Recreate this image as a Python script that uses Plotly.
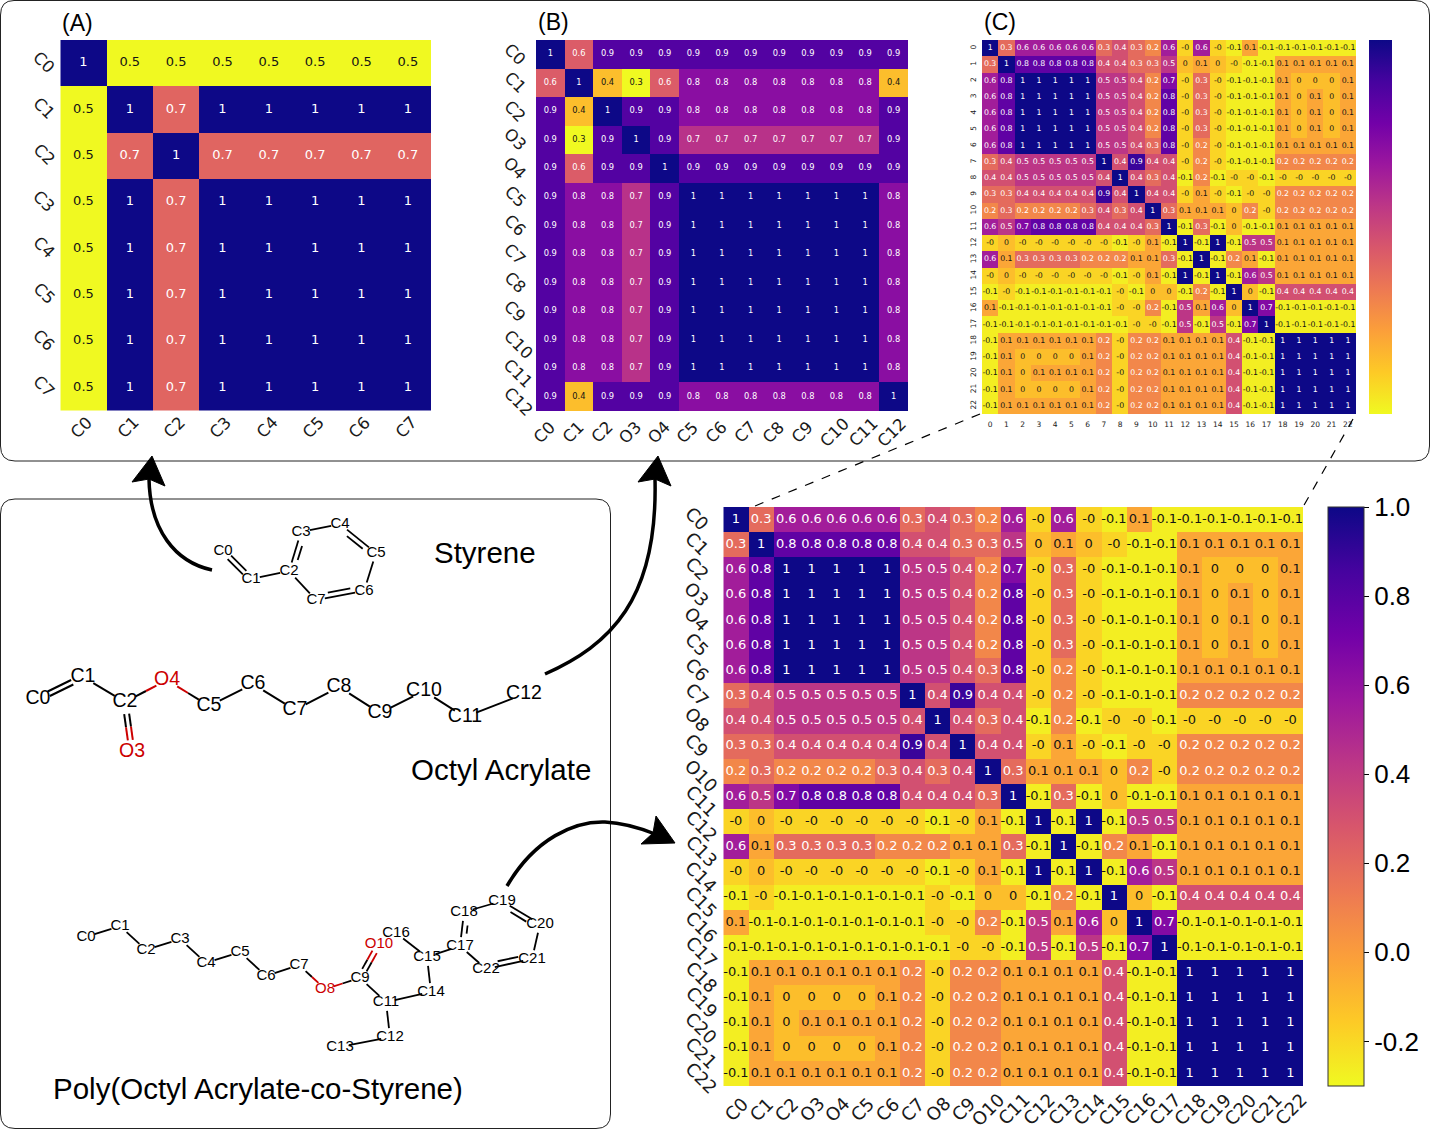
from __future__ import annotations

import math

import plotly.graph_objects as go

WIDTH = 1430
HEIGHT = 1129

# panel (A): styrene
LABELS_A = ["C0", "C1", "C2", "C3", "C4", "C5", "C6", "C7"]
CORR_A = [
    [1.0, 0.5, 0.5, 0.5, 0.5, 0.5, 0.5, 0.5],
    [0.5, 1.0, 0.7, 1.0, 1.0, 1.0, 1.0, 1.0],
    [0.5, 0.7, 1.0, 0.7, 0.7, 0.7, 0.7, 0.7],
    [0.5, 1.0, 0.7, 1.0, 1.0, 1.0, 1.0, 1.0],
    [0.5, 1.0, 0.7, 1.0, 1.0, 1.0, 1.0, 1.0],
    [0.5, 1.0, 0.7, 1.0, 1.0, 1.0, 1.0, 1.0],
    [0.5, 1.0, 0.7, 1.0, 1.0, 1.0, 1.0, 1.0],
    [0.5, 1.0, 0.7, 1.0, 1.0, 1.0, 1.0, 1.0],
]

# panel (B): octyl acrylate
LABELS_B = ["C0", "C1", "C2", "O3", "O4", "C5", "C6", "C7", "C8", "C9", "C10", "C11", "C12"]
CORR_B = [
    [1.0, 0.6, 0.9, 0.9, 0.9, 0.9, 0.9, 0.9, 0.9, 0.9, 0.9, 0.9, 0.9],
    [0.6, 1.0, 0.4, 0.3, 0.6, 0.8, 0.8, 0.8, 0.8, 0.8, 0.8, 0.8, 0.4],
    [0.9, 0.4, 1.0, 0.9, 0.9, 0.8, 0.8, 0.8, 0.8, 0.8, 0.8, 0.8, 0.9],
    [0.9, 0.3, 0.9, 1.0, 0.9, 0.7, 0.7, 0.7, 0.7, 0.7, 0.7, 0.7, 0.9],
    [0.9, 0.6, 0.9, 0.9, 1.0, 0.9, 0.9, 0.9, 0.9, 0.9, 0.9, 0.9, 0.9],
    [0.9, 0.8, 0.8, 0.7, 0.9, 1.0, 1.0, 1.0, 1.0, 1.0, 1.0, 1.0, 0.8],
    [0.9, 0.8, 0.8, 0.7, 0.9, 1.0, 1.0, 1.0, 1.0, 1.0, 1.0, 1.0, 0.8],
    [0.9, 0.8, 0.8, 0.7, 0.9, 1.0, 1.0, 1.0, 1.0, 1.0, 1.0, 1.0, 0.8],
    [0.9, 0.8, 0.8, 0.7, 0.9, 1.0, 1.0, 1.0, 1.0, 1.0, 1.0, 1.0, 0.8],
    [0.9, 0.8, 0.8, 0.7, 0.9, 1.0, 1.0, 1.0, 1.0, 1.0, 1.0, 1.0, 0.8],
    [0.9, 0.8, 0.8, 0.7, 0.9, 1.0, 1.0, 1.0, 1.0, 1.0, 1.0, 1.0, 0.8],
    [0.9, 0.8, 0.8, 0.7, 0.9, 1.0, 1.0, 1.0, 1.0, 1.0, 1.0, 1.0, 0.8],
    [0.9, 0.4, 0.9, 0.9, 0.9, 0.8, 0.8, 0.8, 0.8, 0.8, 0.8, 0.8, 1.0],
]

# panels (C) and the large one: the copolymer. -0.03 prints as "-0", 0.03 as "0"
LABELS_D = ["C0", "C1", "C2", "O3", "O4", "C5", "C6", "C7", "O8", "C9", "O10", "C11", "C12",
            "C13", "C14", "C15", "C16", "C17", "C18", "C19", "C20", "C21", "C22"]
TICKS_C = [str(i) for i in range(23)]
CORR_D = [
    [1.0, 0.3, 0.6, 0.6, 0.6, 0.6, 0.6, 0.3, 0.4, 0.3, 0.2, 0.6, -0.03, 0.6, -0.03, -0.1, 0.1, -0.1, -0.1, -0.1, -0.1, -0.1, -0.1],
    [0.3, 1.0, 0.8, 0.8, 0.8, 0.8, 0.8, 0.4, 0.4, 0.3, 0.3, 0.5, 0.03, 0.1, 0.03, -0.03, -0.1, -0.1, 0.1, 0.1, 0.1, 0.1, 0.1],
    [0.6, 0.8, 1.0, 1.0, 1.0, 1.0, 1.0, 0.5, 0.5, 0.4, 0.2, 0.7, -0.03, 0.3, -0.03, -0.1, -0.1, -0.1, 0.1, 0.03, 0.03, 0.03, 0.1],
    [0.6, 0.8, 1.0, 1.0, 1.0, 1.0, 1.0, 0.5, 0.5, 0.4, 0.2, 0.8, -0.03, 0.3, -0.03, -0.1, -0.1, -0.1, 0.1, 0.03, 0.1, 0.03, 0.1],
    [0.6, 0.8, 1.0, 1.0, 1.0, 1.0, 1.0, 0.5, 0.5, 0.4, 0.2, 0.8, -0.03, 0.3, -0.03, -0.1, -0.1, -0.1, 0.1, 0.03, 0.1, 0.03, 0.1],
    [0.6, 0.8, 1.0, 1.0, 1.0, 1.0, 1.0, 0.5, 0.5, 0.4, 0.2, 0.8, -0.03, 0.3, -0.03, -0.1, -0.1, -0.1, 0.1, 0.03, 0.1, 0.03, 0.1],
    [0.6, 0.8, 1.0, 1.0, 1.0, 1.0, 1.0, 0.5, 0.5, 0.4, 0.3, 0.8, -0.03, 0.2, -0.03, -0.1, -0.1, -0.1, 0.1, 0.1, 0.1, 0.1, 0.1],
    [0.3, 0.4, 0.5, 0.5, 0.5, 0.5, 0.5, 1.0, 0.4, 0.9, 0.4, 0.4, -0.03, 0.2, -0.03, -0.1, -0.1, -0.1, 0.2, 0.2, 0.2, 0.2, 0.2],
    [0.4, 0.4, 0.5, 0.5, 0.5, 0.5, 0.5, 0.4, 1.0, 0.4, 0.3, 0.4, -0.1, 0.2, -0.1, -0.03, -0.03, -0.1, -0.03, -0.03, -0.03, -0.03, -0.03],
    [0.3, 0.3, 0.4, 0.4, 0.4, 0.4, 0.4, 0.9, 0.4, 1.0, 0.4, 0.4, -0.03, 0.1, -0.03, -0.1, -0.03, -0.03, 0.2, 0.2, 0.2, 0.2, 0.2],
    [0.2, 0.3, 0.2, 0.2, 0.2, 0.2, 0.3, 0.4, 0.3, 0.4, 1.0, 0.3, 0.1, 0.1, 0.1, 0.03, 0.2, -0.03, 0.2, 0.2, 0.2, 0.2, 0.2],
    [0.6, 0.5, 0.7, 0.8, 0.8, 0.8, 0.8, 0.4, 0.4, 0.4, 0.3, 1.0, -0.1, 0.3, -0.1, 0.03, -0.1, -0.1, 0.1, 0.1, 0.1, 0.1, 0.1],
    [-0.03, 0.03, -0.03, -0.03, -0.03, -0.03, -0.03, -0.03, -0.1, -0.03, 0.1, -0.1, 1.0, -0.1, 1.0, -0.1, 0.5, 0.5, 0.1, 0.1, 0.1, 0.1, 0.1],
    [0.6, 0.1, 0.3, 0.3, 0.3, 0.3, 0.2, 0.2, 0.2, 0.1, 0.1, 0.3, -0.1, 1.0, -0.1, 0.2, 0.1, -0.1, 0.1, 0.1, 0.1, 0.1, 0.1],
    [-0.03, 0.03, -0.03, -0.03, -0.03, -0.03, -0.03, -0.03, -0.1, -0.03, 0.1, -0.1, 1.0, -0.1, 1.0, -0.1, 0.6, 0.5, 0.1, 0.1, 0.1, 0.1, 0.1],
    [-0.1, -0.03, -0.1, -0.1, -0.1, -0.1, -0.1, -0.1, -0.03, -0.1, 0.03, 0.03, -0.1, 0.2, -0.1, 1.0, 0.03, -0.1, 0.4, 0.4, 0.4, 0.4, 0.4],
    [0.1, -0.1, -0.1, -0.1, -0.1, -0.1, -0.1, -0.1, -0.03, -0.03, 0.2, -0.1, 0.5, 0.1, 0.6, 0.03, 1.0, 0.7, -0.1, -0.1, -0.1, -0.1, -0.1],
    [-0.1, -0.1, -0.1, -0.1, -0.1, -0.1, -0.1, -0.1, -0.1, -0.03, -0.03, -0.1, 0.5, -0.1, 0.5, -0.1, 0.7, 1.0, -0.1, -0.1, -0.1, -0.1, -0.1],
    [-0.1, 0.1, 0.1, 0.1, 0.1, 0.1, 0.1, 0.2, -0.03, 0.2, 0.2, 0.1, 0.1, 0.1, 0.1, 0.4, -0.1, -0.1, 1.0, 1.0, 1.0, 1.0, 1.0],
    [-0.1, 0.1, 0.03, 0.03, 0.03, 0.03, 0.1, 0.2, -0.03, 0.2, 0.2, 0.1, 0.1, 0.1, 0.1, 0.4, -0.1, -0.1, 1.0, 1.0, 1.0, 1.0, 1.0],
    [-0.1, 0.1, 0.03, 0.1, 0.1, 0.1, 0.1, 0.2, -0.03, 0.2, 0.2, 0.1, 0.1, 0.1, 0.1, 0.4, -0.1, -0.1, 1.0, 1.0, 1.0, 1.0, 1.0],
    [-0.1, 0.1, 0.03, 0.03, 0.03, 0.03, 0.1, 0.2, -0.03, 0.2, 0.2, 0.1, 0.1, 0.1, 0.1, 0.4, -0.1, -0.1, 1.0, 1.0, 1.0, 1.0, 1.0],
    [-0.1, 0.1, 0.1, 0.1, 0.1, 0.1, 0.1, 0.2, -0.03, 0.2, 0.2, 0.1, 0.1, 0.1, 0.1, 0.4, -0.1, -0.1, 1.0, 1.0, 1.0, 1.0, 1.0],
]

COLORBAR_VALS = [-0.2, 0.0, 0.2, 0.4, 0.6, 0.8, 1.0]
COLORBAR_TEXT = ["-0.2", "0.0", "0.2", "0.4", "0.6", "0.8", "1.0"]

# molecule drawings, atom -> page position
STYRENE_ATOMS = {"C0": (223, 551), "C1": (251, 579), "C2": (289, 571), "C3": (301, 532),
                 "C4": (340, 524), "C5": (376, 553), "C6": (364, 591), "C7": (316, 600)}
STYRENE_BONDS = [("C0", "C1", 2), ("C1", "C2", 1), ("C2", "C3", 3), ("C3", "C4", 1),
                 ("C4", "C5", 3), ("C5", "C6", 1), ("C6", "C7", 3), ("C7", "C2", 1)]
OCTYL_ATOMS = {"C0": (38, 699), "C1": (83, 677), "C2": (125, 702), "O3": (132, 752), "O4": (167, 680),
               "C5": (209, 706), "C6": (253, 684), "C7": (295, 710), "C8": (339, 687), "C9": (380, 713),
               "C10": (424, 691), "C11": (465, 717), "C12": (524, 694)}
OCTYL_BONDS = [("C0", "C1", 2), ("C1", "C2", 1), ("C2", "O3", 2), ("C2", "O4", 1), ("O4", "C5", 1),
               ("C5", "C6", 1), ("C6", "C7", 1), ("C7", "C8", 1), ("C8", "C9", 1), ("C9", "C10", 1),
               ("C10", "C11", 1), ("C11", "C12", 1)]
POLY_ATOMS = {"C0": (86, 937), "C1": (120, 926), "C2": (146, 950), "C3": (180, 939), "C4": (206, 963),
              "C5": (240, 952), "C6": (266, 976), "C7": (299, 965), "O8": (325, 989), "C9": (360, 978),
              "O10": (379, 944), "C11": (386, 1002), "C12": (390, 1037), "C13": (340, 1047),
              "C14": (431, 992), "C15": (427, 957), "C16": (396, 933), "C17": (460, 946),
              "C18": (464, 912), "C19": (502, 901), "C20": (540, 924), "C21": (532, 959), "C22": (486, 969)}
POLY_BONDS = [("C0", "C1", 1), ("C1", "C2", 1), ("C2", "C3", 1), ("C3", "C4", 1), ("C4", "C5", 1),
              ("C5", "C6", 1), ("C6", "C7", 1), ("C7", "O8", 1), ("O8", "C9", 1), ("C9", "O10", 2),
              ("C9", "C11", 1), ("C11", "C12", 1), ("C12", "C13", 1), ("C11", "C14", 1), ("C14", "C15", 1),
              ("C15", "C16", 1), ("C15", "C17", 1), ("C17", "C18", 3), ("C18", "C19", 1), ("C19", "C20", 3),
              ("C20", "C21", 1), ("C21", "C22", 3), ("C22", "C17", 1)]

BOND_RED = "#cc0000"
PLASMA_R = "Plasma_r"


def cell_text(value: float) -> str:
    text = f"{value:.1f}"
    return text[:-2] if text.endswith(".0") else text


def add_panel(fig, n_axis, labels, rows, box, zmin, zmax, text_size, tick_size, plain_ticks=False, colorbar=None):
    left, top, right, bottom = box
    xname, yname = f"x{n_axis}", f"y{n_axis}"
    idx = list(range(len(labels)))
    fig.add_trace(go.Heatmap(
        z=rows, x=idx, y=idx, xaxis=xname, yaxis=yname, zmin=zmin, zmax=zmax, colorscale=PLASMA_R,
        showscale=colorbar is not None, colorbar=colorbar, hoverinfo="skip",
    ))
    text_x, text_y, texts, colors = [], [], [], []
    for r, row in enumerate(rows):
        for c, value in enumerate(row):
            text_x.append(c)
            text_y.append(r)
            texts.append(cell_text(value))
            colors.append("#ffffff" if (value - zmin) / (zmax - zmin) >= 0.25 else "#141414")
    fig.add_trace(go.Scatter(
        x=text_x, y=text_y, text=texts, mode="text", xaxis=xname, yaxis=yname, hoverinfo="skip",
        textfont=dict(family="DejaVu Sans", size=text_size, color=colors), showlegend=False,
    ))
    x_axis = dict(
        domain=[left / WIDTH, right / WIDTH], range=[-0.5, len(labels) - 0.5], anchor=yname,
        tickmode="array", tickvals=idx, ticktext=labels, ticks="", showgrid=False, zeroline=False,
        showline=False, tickfont=dict(family="DejaVu Sans", size=tick_size, color="#1a1a1a"),
    )
    y_axis = dict(
        domain=[1 - bottom / HEIGHT, 1 - top / HEIGHT], range=[len(labels) - 0.5, -0.5], anchor=xname,
        tickmode="array", tickvals=idx, ticktext=labels, ticks="", showgrid=False, zeroline=False,
        showline=False, tickfont=dict(family="DejaVu Sans", size=tick_size, color="#1a1a1a"),
    )
    if plain_ticks:
        x_axis.update(tickangle=0, ticklabelstandoff=4)
        y_axis.update(tickangle=-90, ticklabelstandoff=4)
    else:
        x_axis.update(showticklabels=False)
        y_axis.update(showticklabels=False)
    fig.update_layout({f"xaxis{n_axis}": x_axis, f"yaxis{n_axis}": y_axis})


def slanted_labels(n_axis, labels, x_row, y_col, size, long_dx, short_dx, long_dy, short_dy, long_x=0):
    # rotated labels sit centred on their cell, which plotly's own tick anchoring can't do
    out = []
    font = dict(family="DejaVu Sans", size=size, color="#1a1a1a")
    for i, label in enumerate(labels):
        is_long = len(label) > 2
        out.append(dict(text=label, x=i, y=x_row, xref=f"x{n_axis}", yref="y5", showarrow=False, textangle=-45,
                        xanchor="center", yanchor="middle", font=font, xshift=long_dx if is_long else short_dx))
        out.append(dict(text=label, x=y_col + (long_x if is_long else 0), y=i, xref="x5", yref=f"y{n_axis}",
                        showarrow=False, textangle=45, xanchor="center", yanchor="middle", font=font,
                        yshift=-(long_dy if is_long else short_dy)))
    return out


def add_molecule(fig, atoms, bonds, gap, label_size, bond_width):
    black_x, black_y, red_x, red_y = [], [], [], []
    for a, b, kind in bonds:
        x0, y0 = atoms[a]
        x1, y1 = atoms[b]
        length = math.hypot(x1 - x0, y1 - y0)
        ux, uy = (x1 - x0) / length, (y1 - y0) / length
        nx, ny = -uy, ux
        # where the pen starts and stops, leaving room for the atom labels
        sx, sy = x0 + ux * gap, y0 + uy * gap
        ex, ey = x1 - ux * gap, y1 - uy * gap
        if kind == 1:
            lines = [(0, 0)]
        elif kind == 2:
            lines = [(-2.5, 0), (2.5, 0)]
        else:
            lines = [(0, 0), (kind * 1.7, 4)]
        for offset, inset in lines:
            px0, py0 = sx + nx * offset + ux * inset, sy + ny * offset + uy * inset
            px1, py1 = ex + nx * offset - ux * inset, ey + ny * offset - uy * inset
            mx, my = (px0 + px1) / 2, (py0 + py1) / 2
            if a.startswith("O"):
                red_x += [px0, mx, None]
                red_y += [py0, my, None]
                black_x += [mx, px1, None]
                black_y += [my, py1, None]
            elif b.startswith("O"):
                black_x += [px0, mx, None]
                black_y += [py0, my, None]
                red_x += [mx, px1, None]
                red_y += [my, py1, None]
            else:
                black_x += [px0, px1, None]
                black_y += [py0, py1, None]
    fig.add_trace(go.Scatter(x=black_x, y=black_y, mode="lines", xaxis="x5", yaxis="y5", hoverinfo="skip",
                             line=dict(color="#000000", width=bond_width), showlegend=False))
    fig.add_trace(go.Scatter(x=red_x, y=red_y, mode="lines", xaxis="x5", yaxis="y5", hoverinfo="skip",
                             line=dict(color=BOND_RED, width=bond_width), showlegend=False))
    names = list(atoms)
    fig.add_trace(go.Scatter(
        x=[atoms[n][0] for n in names], y=[atoms[n][1] for n in names], text=names, mode="text",
        xaxis="x5", yaxis="y5", hoverinfo="skip", showlegend=False,
        textfont=dict(family="Liberation Sans", size=label_size,
                      color=[BOND_RED if n.startswith("O") else "#000000" for n in names]),
    ))


fig = go.Figure()

add_panel(fig, 1, LABELS_A, CORR_A, (60.3, 40, 431, 410.5), 0.5, 1.0, 13, 15)
add_panel(fig, 2, LABELS_B, CORR_B, (536, 40, 908, 411), 0.3, 1.0, 8.3, 15)
add_panel(fig, 3, TICKS_C, CORR_D, (982, 40, 1356, 414), -0.13, 1.0, 7.8, 7.5, plain_ticks=True,
          colorbar=dict(x=1369 / WIDTH, xanchor="left", y=1 - 40 / HEIGHT, yanchor="top", lenmode="pixels", len=374,
                        thicknessmode="pixels", thickness=23, xpad=0, ypad=0, outlinewidth=0, showticklabels=False,
                        ticks=""))
add_panel(fig, 4, LABELS_D, CORR_D, (723.3, 507, 1303, 1086), -0.13, 1.0, 13, 16)

# the big colour bar is labelled from -0.3 while the cells stop near -0.13, so it gets its own scale
fig.add_trace(go.Scatter(
    x=[None], y=[None], mode="markers", xaxis="x5", yaxis="y5", hoverinfo="skip", showlegend=False,
    marker=dict(color=[0], cmin=-0.3, cmax=1.0, colorscale=PLASMA_R, showscale=True, colorbar=dict(
        x=1328 / WIDTH, xanchor="left", y=1 - 507 / HEIGHT, yanchor="top", lenmode="pixels", len=579,
        thicknessmode="pixels", thickness=36, xpad=0, ypad=0, outlinewidth=1, outlinecolor="#333333",
        tickmode="array", tickvals=COLORBAR_VALS, ticktext=COLORBAR_TEXT, ticks="outside", ticklen=5,
        tickcolor="#000000", tickfont=dict(family="Liberation Sans", size=26, color="#000000"),
    )),
))

add_molecule(fig, STYRENE_ATOMS, STYRENE_BONDS, 9, 15, 1.8)
add_molecule(fig, OCTYL_ATOMS, OCTYL_BONDS, 12, 19.5, 2)
add_molecule(fig, POLY_ATOMS, POLY_BONDS, 9, 15, 1.8)


def page_text(text, x, y, size):
    return dict(text=text, x=x, y=y, xref="x5", yref="y5", showarrow=False, xanchor="center", yanchor="middle",
                font=dict(family="Liberation Sans", size=size, color="#000000"))


annotations = [
    page_text("(A)", 77, 23, 23),
    page_text("(B)", 553, 22, 23),
    page_text("(C)", 1000, 22, 23),
    page_text("Styrene", 485, 552, 29.5),
    page_text("Octyl Acrylate", 501, 769, 29.5),
    page_text("Poly(Octyl Acrylate-co-Styrene)", 258, 1088, 29.5),
]
annotations += slanted_labels(1, LABELS_A, 427, 44, 16.5, -2, -2, 0, -1)
annotations += slanted_labels(2, LABELS_B, 432, 515, 16.5, -2, -6, 5, 0, long_x=3)
annotations += slanted_labels(4, LABELS_D, 1109, 697, 18, 0, 0, 4, -1, long_x=4)

ARROW_STYLE = dict(xref="x5", yref="y5", type="path", line=dict(color="#000000", width=3.5), layer="above")
HEAD_STYLE = dict(xref="x5", yref="y5", type="path", fillcolor="#000000", line=dict(color="#000000", width=1), layer="above")
shapes = [
    # panel frames
    dict(type="path", xref="x5", yref="y5", line=dict(color="#222222", width=1), layer="below",
         path="M 14,0.5 L 1415,0.5 Q 1429.5,0.5 1429.5,15 L 1429.5,446 Q 1429.5,461 1415,461 L 15,461 Q 0.5,461 0.5,446 L 0.5,15 Q 0.5,0.5 14,0.5 Z"),
    dict(type="path", xref="x5", yref="y5", line=dict(color="#222222", width=1), layer="below",
         path="M 15,499 L 596,499 Q 610.5,499 610.5,514 L 610.5,1114 Q 610.5,1128.5 596,1128.5 L 15,1128.5 Q 0.5,1128.5 0.5,1114 L 0.5,514 Q 0.5,499 15,499 Z"),
    # zoom guides from panel (C) to the big map
    dict(type="line", xref="x5", yref="y5", x0=980, y0=414, x1=750, y1=508, line=dict(color="#000000", width=1.2, dash="dash")),
    dict(type="line", xref="x5", yref="y5", x0=1353, y0=419, x1=1303, y1=507, line=dict(color="#000000", width=1.2, dash="dash")),
    # arrows
    dict(path="M 212,570 C 175,562 150,530 149,479", **ARROW_STYLE),
    dict(path="M 152,456 L 132,482 L 149,479 L 165,486 Z", **HEAD_STYLE),
    dict(path="M 545,674 C 610,645 658,600 655,479", **ARROW_STYLE),
    dict(path="M 658,456 L 638,482 L 655,479 L 671,486 Z", **HEAD_STYLE),
    dict(path="M 507,886 C 535,838 575,821 605,822 C 625,823 640,828 655,834", **ARROW_STYLE),
    dict(path="M 675,843 L 656,816 L 653,833 L 641,844 Z", **HEAD_STYLE),
]

fig.update_layout(
    width=WIDTH,
    height=HEIGHT,
    margin=dict(l=0, r=0, t=0, b=0, autoexpand=False),
    paper_bgcolor="#ffffff",
    plot_bgcolor="rgba(0,0,0,0)",
    showlegend=False,
    annotations=annotations,
    shapes=shapes,
    xaxis5=dict(domain=[0, 1], range=[0, WIDTH], anchor="y5", visible=False, fixedrange=True),
    yaxis5=dict(domain=[0, 1], range=[HEIGHT, 0], anchor="x5", visible=False, fixedrange=True),
)

fig.write_html("out.html", config={"displayModeBar": False}, post_script="document.body.style.margin='0';")
